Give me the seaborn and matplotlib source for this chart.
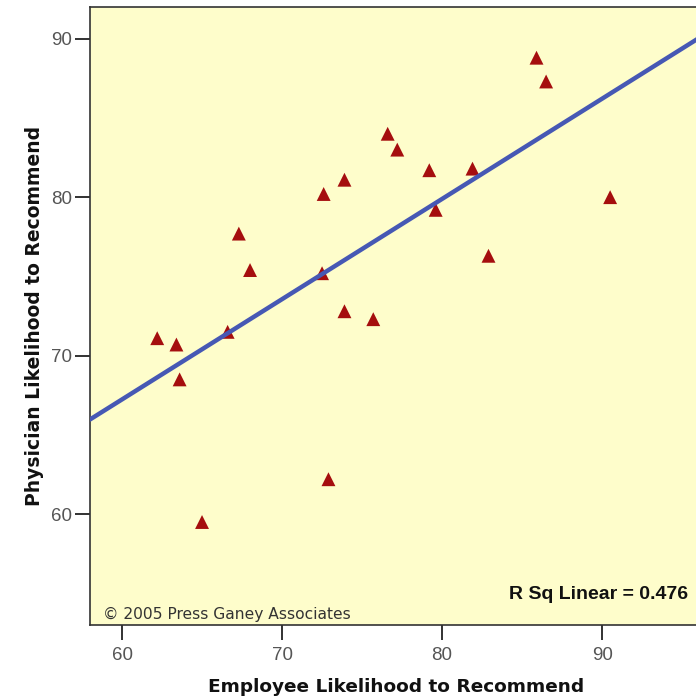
import matplotlib
matplotlib.use("Agg")
import matplotlib.pyplot as plt
import seaborn as sns
import pandas as pd

employee = [85.9, 86.5, 76.6, 77.2, 79.2, 81.9, 73.9, 72.6, 90.5, 79.6, 67.3,
            82.9, 68.0, 72.5, 73.9, 75.7, 62.2, 63.4, 66.6, 63.6, 72.9, 65.0]
physician = [88.8, 87.3, 84.0, 83.0, 81.7, 81.8, 81.1, 80.2, 80.0, 79.2, 77.7,
             76.3, 75.4, 75.2, 72.8, 72.3, 71.1, 70.7, 71.5, 68.5, 62.2, 59.5]
x_ticks = [60, 70, 80, 90]
y_ticks = [60, 70, 80, 90]
x_label = "Employee Likelihood to Recommend"
y_label = "Physician Likelihood to Recommend"
r2_text = "R Sq Linear = 0.476"
credit_text = "\u00a9 2005 Press Ganey Associates"

df = pd.DataFrame({"emp": employee, "phy": physician})

sns.set_style("white")
plt.rcParams["font.family"] = ["Liberation Sans", "DejaVu Sans"]

fig = plt.figure(figsize=(6.96, 6.99), dpi=100)
ax = fig.add_axes([90 / 696, 1 - 625 / 699, 1 - 90 / 696 + 0.01, (625 - 7) / 699])
ax.set_facecolor("#FEFDCB")
ax.set_xlim(58.0, 96.3)
ax.set_ylim(53.0, 92.0)

sns.regplot(data=df, x="emp", y="phy", ax=ax, ci=None, truncate=False,
            marker="^",
            scatter_kws=dict(s=100, color="#A50E0E", edgecolors="none", alpha=1, zorder=2),
            line_kws=dict(color="#4658B4", lw=3.2, zorder=3))

ax.set_xticks(x_ticks)
ax.set_yticks(y_ticks)
ax.tick_params(axis="both", direction="out", length=11, width=1.3, color="#222222",
               labelsize=13.5, labelcolor="#555555", left=True, bottom=True)
ax.tick_params(axis="x", pad=5)
ax.tick_params(axis="y", pad=2)
for s in ["left", "bottom", "top"]:
    ax.spines[s].set_color("#333333")
    ax.spines[s].set_linewidth(1.2)
ax.spines["right"].set_visible(False)

ax.set_xlabel(x_label, fontsize=13.3, fontweight="bold", color="#111111", labelpad=10,
              family=["DejaVu Sans"])
ax.set_ylabel(y_label, fontsize=13.5, fontweight="bold", color="#111111", labelpad=5,
              family=["DejaVu Sans"])

ax.text(0.976, 0.036, r2_text, transform=ax.transAxes, ha="right", va="bottom",
        fontsize=14, fontweight="bold", color="#111111")
ax.text(0.022, 0.005, credit_text, transform=ax.transAxes, ha="left", va="bottom",
        fontsize=11.2, color="#333333", family=["DejaVu Sans"])

fig.savefig("out.png", dpi=100)
